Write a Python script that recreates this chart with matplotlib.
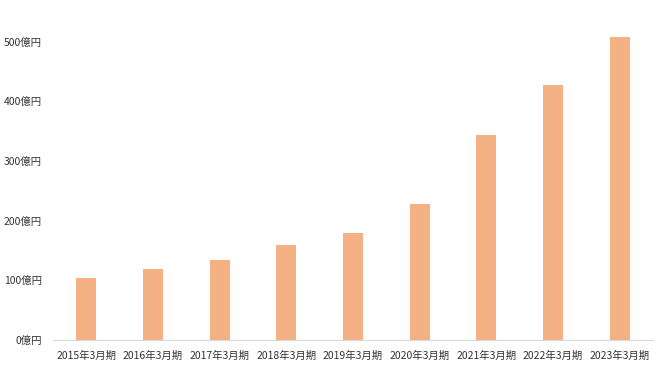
import matplotlib
matplotlib.use("Agg")
import matplotlib.pyplot as plt
from matplotlib.ticker import FixedLocator, FuncFormatter

plt.rcParams['font.family'] = ['Noto Sans CJK JP', 'DejaVu Sans']

categories = ["2015年3月期", "2016年3月期", "2017年3月期", "2018年3月期", "2019年3月期",
              "2020年3月期", "2021年3月期", "2022年3月期", "2023年3月期"]
values = [104, 119, 134, 159, 180, 227, 344, 427, 507]
yticks = [0, 100, 200, 300, 400, 500]

fig = plt.figure(figsize=(6.6, 3.71), dpi=100)
ax = fig.add_axes([53/660, 31/371, 600/660, 310.4/371])
x = range(len(categories))
ax.bar(x, values, width=0.3, color="#F4B183")
ax.set_xlim(-0.5, len(categories) - 0.5)
ax.set_ylim(0, 520)
ax.set_xticks(list(x))
ax.set_xticklabels(categories)
ax.yaxis.set_major_locator(FixedLocator(yticks))
ax.yaxis.set_major_formatter(FuncFormatter(lambda v, p: f"{int(v)}億円"))
for s in ["top", "right", "left"]:
    ax.spines[s].set_visible(False)
ax.spines["bottom"].set_color("#D9D9D9")
ax.tick_params(axis="both", length=0, labelsize=7.5, colors="#333333")
ax.tick_params(axis="y", pad=8)
ax.tick_params(axis="x", pad=8)
fig.savefig("out.png", dpi=100)
